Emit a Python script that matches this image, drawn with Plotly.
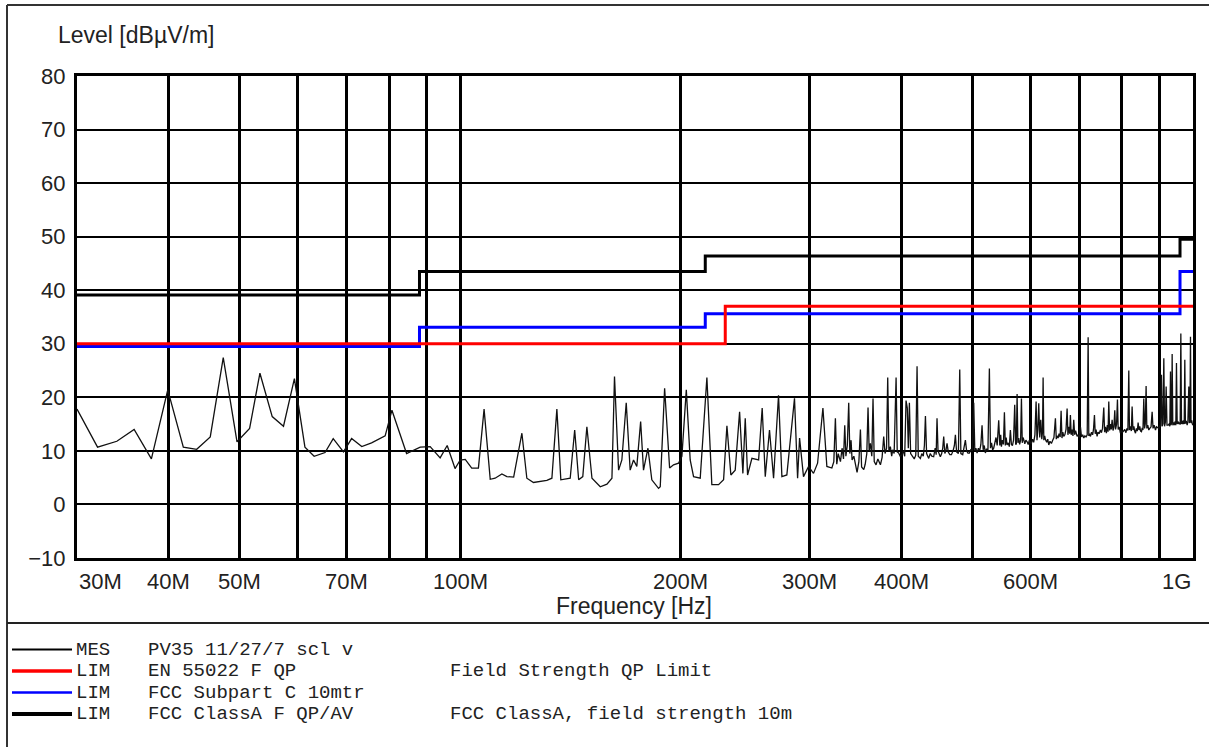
import math
import plotly.graph_objects as go

# ---------------- data ----------------
# measurement trace, 30-100 MHz (MHz, dBuV/m)
mes_low_freq = [
    30.0, 32.0, 34.0, 35.9, 37.9, 39.9, 41.9, 43.7, 45.6, 47.5, 49.6, 51.6, 53.3, 55.4, 57.4, 59.4,
    61.4, 63.2, 65.4, 67.1, 69.3, 71.1, 73.4, 75.7, 79.0, 80.7, 84.5, 88.2, 91.0, 93.9, 96.0, 98.4,
]
mes_low_level = [
    17.8, 10.7, 11.8, 14.0, 8.5, 21.4, 10.7, 10.3, 12.6, 27.4, 11.7, 14.2, 24.5, 16.4, 14.6, 23.5,
    10.7, 9.0, 9.7, 12.3, 9.8, 12.3, 10.8, 11.5, 12.8, 17.6, 9.5, 10.7, 10.8, 8.7, 11.0, 6.7,
]
# measurement trace, 100-320 MHz
mes_mid_freq = [
    100.0, 101.6, 103.7, 105.9, 107.8, 109.9, 111.6, 114.0, 115.8, 118.3, 121.4, 123.3, 125.9, 131.3,
    133.4, 135.5, 137.2, 139.1, 141.3, 143.3, 145.1, 147.0, 148.9, 151.3, 155.3, 158.6, 161.1, 162.4,
    164.5, 166.2, 168.5, 170.6, 172.4, 174.2, 176.3, 177.9, 180.4, 182.6, 186.5, 187.5, 190.1, 193.1,
    195.5, 198.6, 200.7, 203.5, 206.0, 208.2, 212.6, 217.1, 220.5, 225.2, 228.8, 231.2, 234.1, 237.3,
    240.6, 243.1, 244.9, 246.7, 250.1, 255.4, 258.3, 260.8, 264.3, 267.7, 271.9, 274.8, 279.1, 285.9,
    288.7, 290.5, 294.1, 298.8, 303.5, 307.4, 312.6, 316.5,
]
mes_mid_level = [
    8.3, 8.4, 6.8, 6.8, 17.8, 4.7, 4.9, 5.7, 5.2, 5.1, 13.3, 4.9, 4.1, 4.5,
    4.9, 17.8, 4.6, 4.7, 4.9, 13.9, 4.6, 5.2, 14.5, 4.9, 3.3, 3.8, 4.9, 23.9,
    6.4, 8.3, 19.0, 6.4, 8.3, 7.1, 15.5, 6.4, 10.5, 4.6, 3.0, 3.3, 21.7, 6.8,
    7.4, 7.7, 9.0, 21.4, 8.3, 5.2, 4.9, 23.7, 3.7, 3.7, 4.6, 14.7, 5.5, 6.4,
    17.3, 5.8, 16.1, 5.5, 8.6, 8.3, 18.0, 5.2, 13.9, 4.9, 20.4, 5.2, 5.5, 19.8,
    4.9, 12.4, 5.2, 7.1, 5.8, 7.7, 18.0, 7.1,
]
# measurement trace, 320-575 MHz
mes_hi_freq = [
    321.5, 323.5, 325.1, 326.5, 328.0, 330.3, 332.0, 333.5, 334.8, 336.0,
    337.5, 339.0, 340.2, 341.5, 342.6, 344.5, 346.2, 348.0, 350.0, 351.7,
    353.0, 355.4, 357.0, 358.8, 360.2, 361.5, 362.9, 364.5, 365.9, 367.3,
    369.4, 371.5, 374.5, 376.5, 378.4, 380.0, 381.8, 383.2, 384.6, 386.4,
    388.0, 389.2, 391.0, 393.4, 394.8, 396.6, 398.5, 400.8, 402.5, 404.2,
    405.9, 407.5, 408.8, 410.2, 411.8, 414.5, 416.5, 418.5, 420.2, 421.8,
    424.6, 426.5, 428.5, 430.0, 431.4, 433.0, 435.9, 438.0, 440.2, 442.7,
    444.8, 446.2, 447.4, 448.8, 450.5, 452.1, 454.0, 455.5, 456.9, 458.5,
    460.0, 461.7, 463.5, 465.8, 468.1, 470.5, 472.5, 474.0, 475.8, 478.5,
    480.5, 482.2, 485.0, 487.0, 489.1, 491.0, 493.0, 495.3, 497.5, 500.0,
    502.1, 503.8, 505.5, 507.4, 509.5, 511.5, 513.5, 515.4, 517.2, 519.0,
    520.8, 522.8, 525.0, 527.4, 529.2, 531.0, 532.8, 534.6, 536.5, 538.5,
    540.5, 543.1, 545.0, 546.5, 547.7, 549.5, 551.2, 552.9, 554.5, 556.0,
    557.5, 559.5, 561.5, 563.4, 565.2, 567.0, 569.0, 571.1, 572.8,
]
mes_hi_level = [
    6.8, 8.0, 16.1, 7.5, 9.5, 8.0, 10.5, 8.5, 14.8, 9.0,
    11.0, 19.0, 9.5, 12.0, 8.3, 9.0, 7.1, 6.0, 8.0, 14.0,
    7.0, 6.5, 7.5, 9.5, 18.1, 10.0, 11.4, 9.0, 19.8, 8.0,
    7.4, 8.5, 7.4, 8.8, 12.7, 9.5, 10.5, 23.7, 10.0, 10.8,
    9.0, 10.2, 9.5, 23.7, 9.8, 9.6, 9.0, 9.3, 10.0, 9.0,
    19.4, 18.0, 10.5, 19.0, 9.5, 8.9, 8.5, 9.2, 25.8, 9.0,
    8.6, 9.5, 9.0, 11.0, 16.5, 9.5, 8.6, 9.5, 9.0, 8.9,
    10.5, 9.3, 16.1, 10.0, 9.2, 8.9, 9.5, 10.5, 12.7, 9.5,
    10.0, 11.4, 9.8, 9.3, 9.3, 10.0, 11.0, 13.0, 9.8, 9.5,
    25.2, 9.5, 9.3, 10.5, 12.0, 10.0, 9.6, 9.6, 10.2, 10.0,
    19.0, 10.0, 10.5, 9.6, 10.5, 10.0, 11.2, 14.8, 10.2, 11.0,
    9.6, 10.4, 10.0, 25.4, 10.5, 11.5, 10.2, 10.5, 11.5, 12.5,
    11.0, 15.7, 11.0, 13.0, 10.8, 12.0, 11.2, 17.2, 11.0, 12.5,
    11.1, 11.5, 10.8, 13.9, 11.2, 11.0, 12.0, 18.6, 11.2,
]
# measurement trace, 575-1000 MHz
mes_top_freq = [
    574.0, 575.4, 576.8, 578.4, 580.0, 581.8, 583.3, 584.8, 586.2, 587.6,
    589.5, 591.5, 593.8, 595.8, 598.0, 600.0, 601.9, 604.0, 606.2, 608.5,
    610.8, 612.5, 614.2, 615.9, 617.8, 619.8, 621.8, 623.2, 624.4, 625.8,
    627.5, 629.0, 631.5, 633.5, 635.6, 638.0, 640.9, 643.5, 646.0, 649.0,
    650.8, 652.5, 654.5, 656.5, 658.8, 660.7, 662.5, 664.3, 666.2, 668.5,
    671.0, 673.3, 675.0, 677.0, 678.8, 680.3, 682.0, 684.0, 685.8, 687.5,
    689.5, 691.5, 694.8, 697.0, 699.5, 702.1, 704.5, 707.0, 709.5, 712.0,
    714.5, 717.2, 719.3, 720.8, 722.5, 724.6, 727.0, 729.5, 731.5, 733.7,
    735.5, 737.5, 739.8, 742.0, 744.5, 747.6, 750.0, 752.5, 755.5, 757.5,
    759.5, 761.8, 764.0, 765.8, 767.5, 769.5, 771.5, 773.5, 775.6, 777.8,
    780.0, 782.1, 784.0, 786.5, 788.7, 790.5, 793.0, 796.1, 799.0, 801.5,
    804.5, 807.0, 810.0, 812.5, 815.0, 817.3, 819.0, 821.5, 823.8, 825.9,
    828.0, 830.5, 832.5, 834.7, 837.0, 839.5, 841.6, 843.8, 846.0, 848.2,
    850.5, 852.5, 854.5, 856.7, 858.8, 860.8, 863.0, 865.0, 867.5, 870.3,
    873.0, 876.5, 879.5, 882.0, 885.0, 888.8, 891.5, 895.0, 898.1, 900.5,
    903.0, 905.7, 907.5, 910.0, 912.4, 914.5, 917.0, 919.1, 921.5, 924.9,
    927.5, 929.8, 931.7, 933.5, 935.2, 936.6, 938.5, 941.0, 943.5, 945.5,
    947.5, 949.4, 951.5, 954.0, 956.4, 958.5, 960.5, 962.5, 964.5, 966.5,
    968.5, 970.5, 972.8, 974.6, 976.5, 979.0, 981.8, 984.0, 986.9, 988.8,
    990.5, 992.1, 993.8, 996.0, 998.0, 1000.0,
]
mes_top_level = [
    11.3, 20.6, 11.5, 12.4, 11.2, 12.0, 19.8, 11.5, 12.5, 12.1,
    11.3, 12.0, 11.7, 11.2, 12.0, 11.5, 11.4, 12.2, 11.6, 13.0,
    19.2, 12.0, 14.0, 18.9, 12.5, 15.8, 12.2, 13.5, 23.7, 12.0,
    12.8, 12.1, 11.6, 12.2, 11.1, 11.8, 11.4, 12.0, 12.5, 16.1,
    12.2, 12.8, 12.4, 13.2, 12.6, 17.5, 12.4, 13.5, 12.7, 13.0,
    14.0, 17.9, 13.0, 14.5, 13.2, 16.7, 13.0, 14.0, 12.8, 15.8,
    13.0, 13.8, 12.7, 13.0, 12.5, 14.5, 12.6, 13.0, 12.4, 12.8,
    12.6, 13.0, 31.2, 12.8, 13.2, 12.7, 13.5, 13.0, 14.0, 16.7,
    13.2, 14.0, 12.7, 13.5, 13.2, 13.9, 13.4, 14.2, 18.1, 13.5,
    14.5, 13.3, 14.8, 13.6, 19.2, 13.8, 15.0, 14.0, 15.8, 13.8,
    14.5, 17.6, 14.0, 15.0, 19.6, 14.0, 14.5, 13.3, 13.8, 13.5,
    13.9, 14.0, 13.4, 14.2, 13.8, 25.0, 13.9, 14.6, 13.7, 18.3,
    13.9, 14.6, 13.7, 13.3, 14.2, 13.7, 15.3, 13.9, 14.6, 13.7,
    13.6, 14.3, 13.9, 19.8, 14.2, 15.1, 22.1, 14.2, 14.8, 13.9,
    14.2, 14.5, 17.3, 14.2, 14.8, 13.9, 14.5, 14.3, 14.2, 14.7,
    14.5, 24.2, 14.6, 15.1, 27.3, 14.6, 15.4, 22.0, 14.8, 14.8,
    15.0, 14.6, 24.8, 14.8, 15.4, 28.1, 14.8, 15.3, 14.8, 15.5,
    14.8, 26.4, 15.0, 15.5, 15.0, 15.3, 14.9, 31.9, 15.0, 15.6,
    15.0, 15.7, 15.0, 27.0, 15.1, 15.6, 14.8, 15.4, 22.0, 15.2,
    15.7, 31.3, 15.2, 15.7, 15.0, 14.8,
]

# limit lines (step breakpoints, MHz / dBuV/m)
en55022_freq = [30, 230, 230, 1000]
en55022_level = [30.0, 30.0, 37.0, 37.0]
fcc_c_freq = [30, 88, 88, 216, 216, 960, 960, 1000]
fcc_c_level = [29.5, 29.5, 33.1, 33.1, 35.6, 35.6, 43.5, 43.5]
fcc_a_freq = [30, 88, 88, 216, 216, 960, 960, 1000]
fcc_a_level = [39.1, 39.1, 43.5, 43.5, 46.4, 46.4, 49.5, 49.5]

grid_freqs = [30, 40, 50, 60, 70, 80, 90, 100, 200, 300, 400, 500, 600, 700, 800, 900, 1000]
xtick_vals = [30, 40, 50, 70, 100, 200, 300, 400, 600, 1000]
xtick_text = ["30M", "40M", "50M", "70M", "100M", "200M", "300M", "400M", "600M", "1G"]
ytick_vals = [-10, 0, 10, 20, 30, 40, 50, 60, 70, 80]

legend_rows = [
    ("MES", "PV35 11/27/7 scl v", "", "#000000", 2),
    ("LIM", "EN 55022 F QP", "Field Strength QP Limit", "#ff0000", 3.5),
    ("LIM", "FCC Subpart C 10mtr", "", "#0000ff", 2.5),
    ("LIM", "FCC ClassA F QP/AV", "FCC ClassA, field strength 10m", "#000000", 4),
]

mes_freq = mes_low_freq + mes_mid_freq + mes_hi_freq + mes_top_freq
mes_level = mes_low_level + mes_mid_level + mes_hi_level + mes_top_level
assert len(mes_freq) == len(mes_level)

# ---------------- layout geometry ----------------
W_PX, H_PX = 1209, 747
L, R, T, B = 77, 1193, 76, 558
PW, PH = R - L, B - T


def px(x):
    return (x - L) / PW


def py(y):
    return (B - y) / PH


SANS = "Liberation Sans, Arial, sans-serif"
MONO = "Liberation Mono, Courier New, monospace"

fig = go.Figure()
fig.add_trace(go.Scatter(x=mes_freq, y=mes_level, mode="lines",
                         line=dict(color="#111111", width=1.3), showlegend=False))
fig.add_trace(go.Scatter(x=fcc_a_freq, y=fcc_a_level, mode="lines",
                         line=dict(color="#000000", width=3), showlegend=False))
fig.add_trace(go.Scatter(x=fcc_c_freq, y=fcc_c_level, mode="lines",
                         line=dict(color="#0000ff", width=3), showlegend=False))
fig.add_trace(go.Scatter(x=en55022_freq, y=en55022_level, mode="lines",
                         line=dict(color="#ff0000", width=3), showlegend=False))

annotations = []
for v, t in zip(xtick_vals, xtick_text):
    anchor = "center"
    if v == xtick_vals[0]:
        anchor = "left"
    elif v == xtick_vals[-1]:
        anchor = "right"
    annotations.append(dict(x=math.log10(v), xref="x", y=py(581), yref="paper",
                            text=t, showarrow=False, xanchor=anchor, yanchor="middle",
                            font=dict(family=SANS, size=22, color="#222222")))
annotations.append(dict(x=px(56), y=py(35), xref="paper", yref="paper", text="Level [dBµV/m]",
                        showarrow=False, xanchor="left", yanchor="middle",
                        font=dict(family=SANS, size=23, color="#222222")))
annotations.append(dict(x=px(634), y=py(606), xref="paper", yref="paper", text="Frequency [Hz]",
                        showarrow=False, xanchor="center", yanchor="middle",
                        font=dict(family=SANS, size=23, color="#222222")))

shapes = []
# outer frame and legend separator
shapes.append(dict(type="line", xref="paper", yref="paper", x0=px(7), x1=px(1209), y0=py(5), y1=py(5),
                   line=dict(color="#333333", width=2)))
shapes.append(dict(type="line", xref="paper", yref="paper", x0=px(7), x1=px(7), y0=py(5), y1=py(747),
                   line=dict(color="#333333", width=2)))
shapes.append(dict(type="line", xref="paper", yref="paper", x0=px(7), x1=px(1209), y0=py(623), y1=py(623),
                   line=dict(color="#222222", width=2)))

row_y = [649.5, 671, 692.5, 714]
for (kind, name, desc, col, lw), yy in zip(legend_rows, row_y):
    shapes.append(dict(type="line", xref="paper", yref="paper", x0=px(12), x1=px(72), y0=py(yy), y1=py(yy),
                       line=dict(color=col, width=lw)))
    for txt, xx in ((kind, 75), (name, 147), (desc, 449)):
        if txt:
            annotations.append(dict(x=px(xx), y=py(yy), xref="paper", yref="paper", text=txt,
                                    showarrow=False, xanchor="left", yanchor="middle", borderpad=0,
                                    font=dict(family=MONO, size=19, color="#222222")))

fig.update_layout(
    width=W_PX, height=H_PX, autosize=False,
    margin=dict(l=L, r=W_PX - R, t=T, b=H_PX - B, pad=0),
    paper_bgcolor="white", plot_bgcolor="white",
    showlegend=False,
    annotations=annotations, shapes=shapes,
)
fig.update_xaxes(type="log", range=[math.log10(30), math.log10(1000)],
                 tickmode="array", tickvals=grid_freqs, showticklabels=False, ticks="",
                 showgrid=True, gridcolor="#000000", gridwidth=2.6,
                 showline=True, linecolor="#000000", linewidth=3, mirror=True, zeroline=False)
fig.update_yaxes(range=[-10, 80], tickmode="array", tickvals=ytick_vals,
                 ticks="", ticklabelstandoff=4,
                 tickfont=dict(family=SANS, size=22, color="#222222"),
                 showgrid=True, gridcolor="#000000", gridwidth=2.4,
                 showline=True, linecolor="#000000", linewidth=3, mirror=True, zeroline=False)

fig.write_html("out.html")
